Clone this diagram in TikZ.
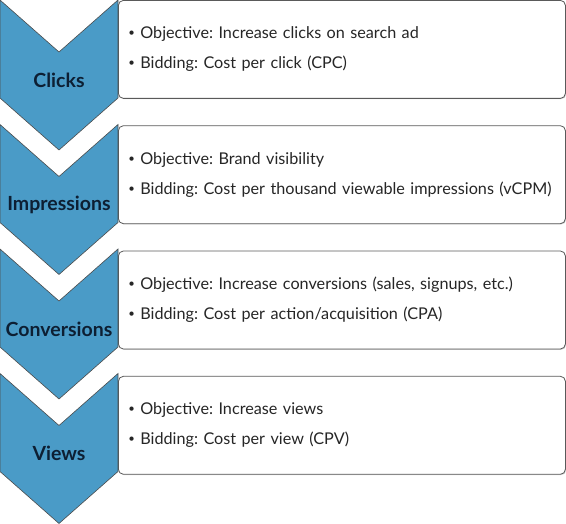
\documentclass[tikz,border=0pt]{standalone}
\usepackage{fontspec}
\setmainfont{Lato}
\usetikzlibrary{positioning}
\usetikzlibrary{shadows}
\frenchspacing

\definecolor{chevronblue}{HTML}{4A9BC7}
\definecolor{labelnavy}{HTML}{0D1F33}
\definecolor{boxgray}{HTML}{5A5A5A}
\newcommand{\itembullet}{\raisebox{0.12em}{\scalebox{0.7}{\textbullet}}\ }

\begin{document}
\begin{tikzpicture}[x=1pt, y=1pt,
	infobox/.style={rectangle, draw=boxgray, line width=0.8pt, rounded corners=5pt, fill=white, minimum width=447pt, minimum height=98pt, text width=427pt, inner xsep=10pt, align=left, font=\fontsize{16.2}{30}\selectfont, text=black!85, drop shadow={shadow xshift=0.8pt, shadow yshift=-0.8pt, opacity=0.35}},
	chevron/.style={draw=black!70, line width=0.6pt, fill=chevronblue},
	stage/.style={font=\bfseries\fontsize{19.5}{21}\selectfont, text=labelnavy}]
	\useasboundingbox (0,0) rectangle (566,-524);
	% boxes
	\node [infobox, anchor=north west] (clicksbox) at (118,0) {\itembullet Objective: Increase clicks on search ad\\\itembullet Bidding: Cost per click (CPC)};
	\node [infobox, below=26.5pt of clicksbox] (impressionsbox) {\itembullet Objective: Brand visibility\\\itembullet Bidding: Cost per thousand viewable impressions (vCPM)};
	\node [infobox, below=26.5pt of impressionsbox] (conversionsbox) {\itembullet Objective: Increase conversions (sales, signups, etc.)\\\itembullet Bidding: Cost per action/acquisition (CPA)};
	\node [infobox, below=26.5pt of conversionsbox] (viewsbox) {\itembullet Objective: Increase views\\\itembullet Bidding: Cost per view (CPV)};
	% chevrons
	\draw [chevron] (0,0) -- (59,-52) -- (118,0) -- (118,-98) -- (59,-150) -- (0,-98) -- cycle;
	\draw [chevron] (0,-124.5) -- (59,-176.5) -- (118,-124.5) -- (118,-222.5) -- (59,-274.5) -- (0,-222.5) -- cycle;
	\draw [chevron] (0,-249) -- (59,-301) -- (118,-249) -- (118,-347) -- (59,-399) -- (0,-347) -- cycle;
	\draw [chevron] (0,-373.5) -- (59,-425.5) -- (118,-373.5) -- (118,-471.5) -- (59,-523.5) -- (0,-471.5) -- cycle;
	% labels
	\node [stage] (clicks) at (59,-80) {Clicks};
	\node [stage] (impressions) at (59,-204.5) {Impressions};
	\node [stage] (conversions) at (59,-329) {Conversions};
	\node [stage] (views) at (59,-453.5) {Views};
\end{tikzpicture}
\end{document}
